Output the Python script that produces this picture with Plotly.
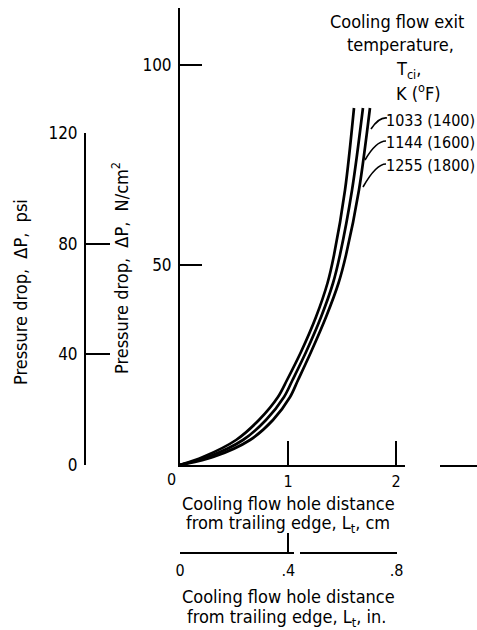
import plotly.graph_objects as go

W, H = 477, 630
FONT = "DejaVu Sans Condensed, DejaVu Sans, sans-serif"

# ---- data ----
pressure_ncm2 = [0, 2.0, 6.25, 11.25, 17.0, 21.25, 28.25, 37.0, 45.5, 52.5, 68.75, 89.25]
dist_1255 = [0, 0.213, 0.519, 0.731, 0.907, 0.991, 1.120, 1.259, 1.366, 1.426, 1.528, 1.611]
dist_1144 = [0, 0.259, 0.583, 0.796, 0.963, 1.042, 1.167, 1.306, 1.417, 1.481, 1.593, 1.694]
dist_1033 = [0, 0.306, 0.648, 0.861, 1.019, 1.093, 1.213, 1.352, 1.468, 1.537, 1.657, 1.759]
curve_labels = ["1033 (1400)", "1144 (1600)", "1255 (1800)"]

cm_ticks = [1, 2]
ncm2_ticks = [50, 100]
psi_ticks = [0, 40, 80, 120]
inch_ticks = [0, 0.4, 0.8]
inch_ticktext = ["0", ".4", ".8"]


def px(x):
    return x / W


def py(y):
    return 1 - y / H


fig = go.Figure()
for xs, name in [(dist_1033, curve_labels[0]), (dist_1144, curve_labels[1]), (dist_1255, curve_labels[2])]:
    fig.add_trace(go.Scatter(x=xs, y=pressure_ncm2, mode="lines", name=name,
                             line=dict(color="black", width=2.7, shape="spline", smoothing=0.9),
                             showlegend=False, xaxis="x", yaxis="y"))
# carrier trace for the secondary (psi / inch) scales
fig.add_trace(go.Scatter(x=[None], y=[None], xaxis="x2", yaxis="y2", showlegend=False, hoverinfo="skip"))

axis_common = dict(showgrid=False, zeroline=False, showline=True, linecolor="black", linewidth=2,
                   ticks="inside", tickcolor="black", tickwidth=2, automargin=False,
                   fixedrange=True)
tf17 = dict(family=FONT, size=17, color="black")
tf16 = dict(family=FONT, size=16, color="black")

fig.update_layout(
    width=W, height=H, autosize=False,
    margin=dict(l=0, r=0, t=0, b=0, pad=0),
    paper_bgcolor="white", plot_bgcolor="rgba(0,0,0,0)",
    font=dict(family=FONT, size=18, color="black"),
    xaxis=dict(domain=[px(180), 1.0], range=[0, (W - 180) / 108], anchor="y",
               tickvals=cm_ticks, ticklen=24, ticklabelstandoff=1, tickfont=tf16, **axis_common),
    yaxis=dict(domain=[py(465), py(8)], range=[0, 457 / 4], anchor="x",
               tickvals=ncm2_ticks, ticklen=22, ticklabelstandoff=3, tickfont=tf17, **axis_common),
    yaxis2=dict(domain=[py(465), py(133)], range=[0, 120], anchor="free", position=px(85),
                tickvals=psi_ticks, ticklen=24, ticklabelstandoff=3, tickfont=tf17, **axis_common),
    xaxis2=dict(domain=[px(180), px(396.5)], range=[0, 0.8], anchor="free", position=py(553),
                tickvals=inch_ticks, ticktext=inch_ticktext, ticklen=19, ticklabelstandoff=3,
                tickfont=tf16, **axis_common),
)

annotations = []


def ann(text, x, y, xanchor="center", size=18, angle=0):
    annotations.append(dict(text=text, x=px(x), y=py(y), xref="paper", yref="paper",
                            xanchor=xanchor, yanchor="middle", showarrow=False, textangle=angle,
                            font=dict(family=FONT, size=size, color="black")))


# axis titles
ann("Pressure drop,  ΔP,  psi", 20, 292, angle=-90)
ann("Pressure drop,  ΔP,  N/cm<sup>2</sup>", 120, 268, angle=-90)
ann("0", 171, 479, size=16)
ann("Cooling flow hole distance", 288, 503)
ann("from trailing edge, L<sub>t</sub>, cm", 288, 524)
ann("Cooling flow hole distance", 288, 596)
ann("from trailing edge, L<sub>t</sub>, in.", 286, 618)

# legend block
ann("Cooling flow exit", 397, 22)
ann("temperature,", 400, 45)
ann("T<sub>ci</sub>,", 408, 70)
ann("K (<sup>o</sup>F)", 418, 92)
for lab, yy in zip(curve_labels, [120, 143, 166]):
    ann(lab, 477, yy, xanchor="right", size=16)

fig.update_layout(annotations=annotations)

shapes = []
# leader strokes from labels to curves
for (x0, y0, xc, yc, x1, y1) in [(387, 118, 379, 117, 371, 129),
                                  (386, 141, 376, 141, 365, 160),
                                  (386, 164, 376, 164, 363, 187)]:
    shapes.append(dict(type="path", xref="paper", yref="paper",
                       path=f"M {px(x0)} {py(y0)} Q {px(xc)} {py(yc)} {px(x1)} {py(y1)}",
                       line=dict(color="black", width=1.6)))
# small breaks in the printed base lines
shapes.append(dict(type="rect", xref="paper", yref="paper", layer="above",
                   x0=px(405), x1=px(440), y0=py(469), y1=py(461),
                   fillcolor="white", line=dict(width=0)))
shapes.append(dict(type="rect", xref="paper", yref="paper", layer="above",
                   x0=px(294), x1=px(300), y0=py(557), y1=py(549),
                   fillcolor="white", line=dict(width=0)))
fig.update_layout(shapes=shapes)

fig.write_html("out.html")
